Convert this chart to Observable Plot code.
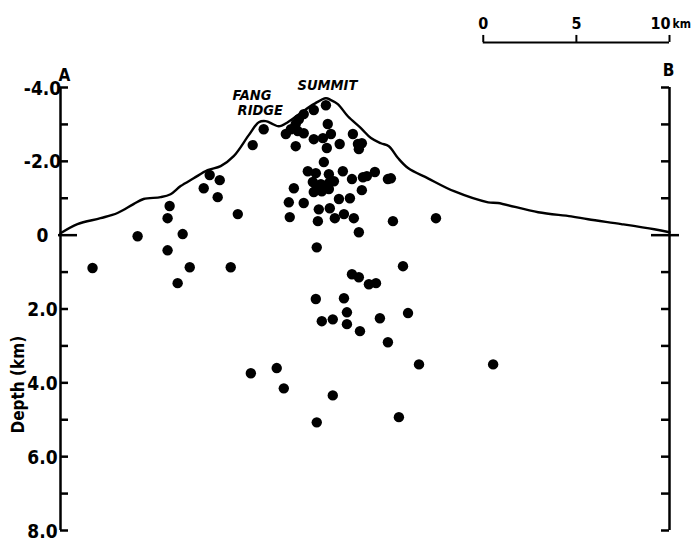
<!DOCTYPE html>
<html><head><meta charset="utf-8">
<script src="https://cdn.jsdelivr.net/npm/d3@7"></script>
<script src="https://cdn.jsdelivr.net/npm/@observablehq/plot@0.6"></script>
<style>body{margin:0;background:#fff}</style>
</head><body><div id="chart"></div>
<script>
// Cross-section A–B: horizontal distance (km) and depth (km, negative = above sea level)
const sectionLength = 32.7;
const scaleBarTicks = [0, 5, 10];
const depthLabelValues = [-4, -2, 0, 2, 4, 6, 8];
const depthLabels = ["-4.0", "-2.0", "0", "2.0", "4.0", "6.0", "8.0"];
const depthTickValues = [-4, -3, -2, -1, 0, 1, 2, 3, 4, 5, 6, 7, 8];

const profileKm = [0.00,0.91,2.15,3.06,3.92,4.46,5.38,5.91,6.45,7.15,7.90,8.60,9.30,10.11,10.65,11.02,11.40,11.72,12.20,12.90,13.60,14.25,14.52,14.89,15.43,16.13,16.67,17.20,17.63,18.12,18.66,19.73,21.13,22.96,23.49,25.65,27.42,28.33,30.11,31.88,32.70];
const profileDepth = [-0.05,-0.30,-0.46,-0.60,-0.84,-0.98,-1.03,-1.11,-1.33,-1.54,-1.76,-1.87,-2.14,-2.71,-3.06,-3.09,-3.01,-2.95,-3.06,-3.31,-3.55,-3.71,-3.66,-3.55,-3.22,-2.90,-2.63,-2.49,-2.41,-2.09,-1.82,-1.54,-1.19,-0.89,-0.87,-0.62,-0.51,-0.43,-0.30,-0.16,-0.08];

const quakeKm = [1.72,4.14,5.86,5.75,5.75,6.56,6.29,6.94,7.69,8.01,8.55,8.44,9.52,9.14,10.32,10.91,12.10,12.37,12.63,12.80,13.06,13.60,14.25,12.74,13.06,12.63,14.35,13.60,14.09,14.52,14.30,14.99,15.70,15.97,16.18,16.02,14.14,13.28,13.71,14.41,15.16,15.65,16.24,16.45,16.88,17.58,17.74,13.55,13.98,14.41,14.68,13.76,13.60,14.03,14.41,12.53,16.18,12.26,13.06,14.95,15.54,13.87,14.46,12.31,13.82,14.73,15.22,15.75,16.02,17.85,20.16,13.76,18.39,15.65,16.02,16.56,16.94,13.71,15.22,15.38,14.03,14.62,15.38,16.08,17.15,18.66,17.58,19.25,23.23,10.22,11.61,11.99,14.62,13.76,18.17];
const quakeDepth = [0.89,0.03,-0.79,-0.46,0.41,-0.03,1.30,0.87,-1.27,-1.63,-1.49,-1.03,-0.57,0.87,-2.44,-2.87,-2.74,-2.87,-3.01,-3.14,-3.28,-3.39,-3.52,-2.82,-2.76,-2.41,-3.01,-2.60,-2.63,-2.74,-2.36,-2.47,-2.74,-2.47,-2.49,-2.33,-1.98,-1.73,-1.68,-1.65,-1.73,-1.52,-1.57,-1.60,-1.71,-1.52,-1.54,-1.44,-1.38,-1.41,-1.46,-1.27,-1.17,-1.19,-1.25,-1.27,-1.22,-0.89,-0.87,-0.98,-1.00,-0.70,-0.73,-0.49,-0.38,-0.46,-0.57,-0.46,-0.08,-0.38,-0.46,0.33,0.84,1.06,1.14,1.33,1.30,1.73,1.71,2.09,2.33,2.28,2.41,2.60,2.25,2.11,2.90,3.50,3.50,3.74,3.60,4.15,4.34,5.07,4.93];

const featureNames = ["FANG", "RIDGE", "SUMMIT"];
const featureKm = [9.24, 9.51, 12.73];
const featureDepth = [-3.78, -3.38, -4.05];

const W = 695, H = 543, mL = 60, mR = 26, mT = 87, mB = 13;
const kmPerPx = sectionLength / (W - mL - mR);
const tickLen = 8 * kmPerPx;
const font = "'DejaVu Sans Condensed','Liberation Sans Narrow','DejaVu Sans',sans-serif";
const barStart = sectionLength - 10;
const barDepth = -5.22, barTickTop = -5.41, barLabelDepth = -5.73;

const profile = profileKm.map((x, i) => ({x, y: profileDepth[i]}));
const quakes = quakeKm.map((x, i) => ({x, y: quakeDepth[i]}));
const features = featureNames.map((name, i) => ({name, x: featureKm[i], y: featureDepth[i]}));
const labels = depthLabelValues.map((y, i) => ({y, text: depthLabels[i]}));
const nonZero = depthTickValues.filter(d => d !== 0);

const chart = Plot.plot({
  width: W, height: H,
  marginLeft: mL, marginRight: mR, marginTop: mT, marginBottom: mB,
  x: {domain: [0, sectionLength], axis: null},
  y: {domain: [-4, 8], reverse: true, axis: null},
  style: {fontFamily: font, background: "white", color: "black"},
  marks: [
    // axes
    Plot.ruleX([0], {y1: -4, y2: 8, strokeWidth: 2.5, stroke: "black"}),
    Plot.ruleX([sectionLength], {y1: -4, y2: 8, strokeWidth: 2.5, stroke: "black"}),
    Plot.ruleY(nonZero, {x1: 0, x2: tickLen, strokeWidth: 2.5, stroke: "black"}),
    Plot.ruleY([0], {x1: -2 * kmPerPx, x2: 17 * kmPerPx, strokeWidth: 2.5, stroke: "black"}),
    Plot.ruleY(nonZero, {x1: sectionLength - tickLen, x2: sectionLength, strokeWidth: 2.5, stroke: "black"}),
    Plot.ruleY([0], {x1: sectionLength - 18 * kmPerPx, x2: sectionLength + 10 * kmPerPx, strokeWidth: 2.5, stroke: "black"}),
    Plot.text(labels, {x: 0, y: "y", text: "text", dx: -18, dy: 1, textAnchor: "middle", fontSize: 19, fontWeight: "bold", fill: "black"}),
    Plot.text(["A"], {x: 0, y: -4, dx: 4, dy: -12, fontSize: 17, fontWeight: "bold", fill: "black"}),
    Plot.text(["B"], {x: sectionLength, y: -4, dx: -1, dy: -17, fontSize: 17, fontWeight: "bold", fill: "black"}),
    Plot.text(["Depth (km)"], {x: 0, y: 4.05, dx: -42, rotate: -90, fontSize: 17, fontWeight: "bold", fill: "black"}),
    // topography
    Plot.line(profile, {x: "x", y: "y", stroke: "black", strokeWidth: 2.4, curve: "catmull-rom"}),
    // hypocenters
    Plot.dot(quakes, {x: "x", y: "y", r: 5.2, fill: "black", stroke: "none"}),
    // feature labels
    Plot.text(features, {x: "x", y: "y", text: "name", textAnchor: "start", fontSize: 14.5, fontWeight: "bold", fontStyle: "italic", fill: "black"}),
    // scale bar
    Plot.ruleY([barDepth], {x1: barStart, x2: barStart + 10, strokeWidth: 2, stroke: "black"}),
    Plot.ruleX(scaleBarTicks, {x: d => barStart + d, y1: barDepth, y2: barTickTop, strokeWidth: 2, stroke: "black"}),
    Plot.text(scaleBarTicks.filter(d => d < 10), {x: d => barStart + d, y: barLabelDepth, text: d => String(d), textAnchor: "middle", fontSize: 16, fontWeight: "bold", fill: "black"}),
    Plot.text([10], {x: d => barStart + d, y: barLabelDepth, text: d => String(d), textAnchor: "end", dx: 1, fontSize: 16, fontWeight: "bold", fill: "black"}),
    Plot.text(["km"], {x: sectionLength, y: barLabelDepth, textAnchor: "start", dx: 3, dy: 1, fontSize: 12, fontWeight: "bold", fill: "black"})
  ]
});
document.getElementById("chart").appendChild(chart);
</script>
</body></html>
